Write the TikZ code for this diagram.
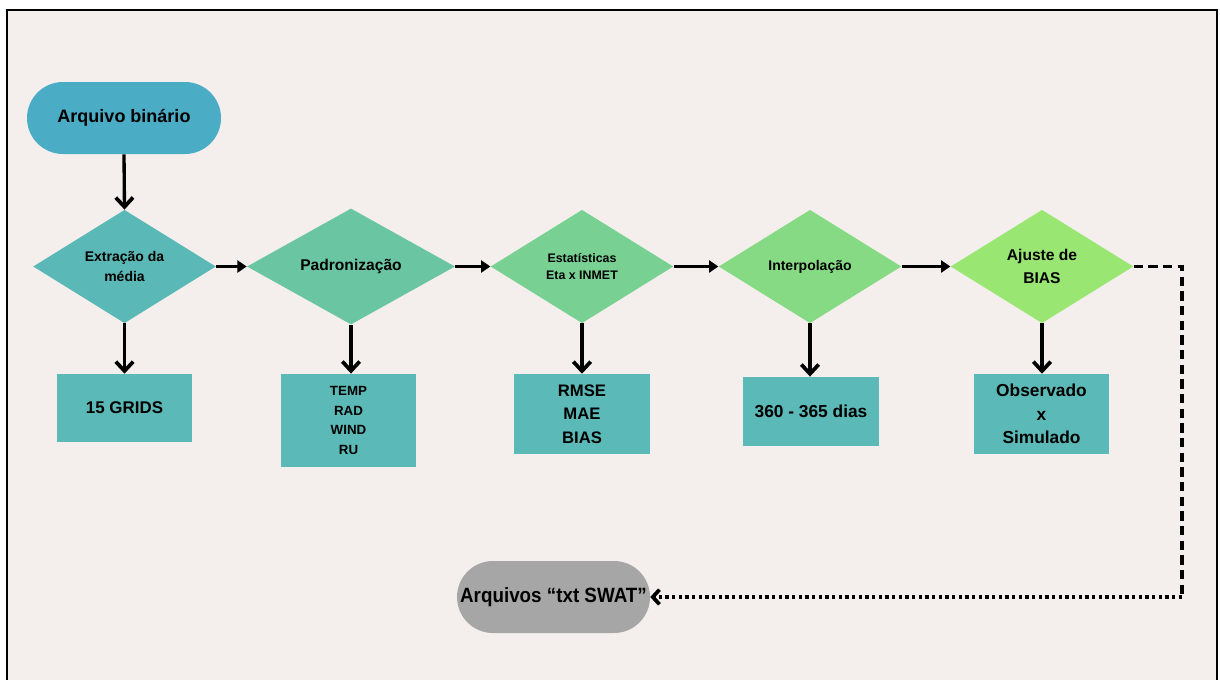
\documentclass[tikz,border=0pt]{standalone}
\usepackage{fontspec}
\setmainfont{Liberation Sans}
\usetikzlibrary{shapes.geometric,arrows.meta}
\definecolor{bgc}{HTML}{F4EFEC}
\definecolor{startc}{HTML}{4BACC6}
\definecolor{dA}{HTML}{5AB9B6}
\definecolor{dB}{HTML}{69C5A2}
\definecolor{dC}{HTML}{78D192}
\definecolor{dD}{HTML}{86DA84}
\definecolor{dE}{HTML}{99E673}
\definecolor{boxc}{HTML}{5BB9B7}
\definecolor{greyc}{HTML}{A6A6A6}
\tikzset{
  stadium/.style={rectangle, rounded corners=27pt, minimum width=145.5pt, minimum height=54pt, inner sep=0pt, font=\bfseries\fontsize{13.5}{16}\selectfont},
  dec/.style={diamond, minimum width=137pt, minimum height=85pt, inner sep=0pt, align=center, font=\bfseries},
  outbox/.style={rectangle, minimum width=101.5pt, inner sep=0pt, align=center, font=\bfseries},
  varrow/.style={line width=2.5pt, -{Straight Barb[length=7pt,width=13pt,line width=2.8pt]}},
  harrow/.style={line width=2.2pt, -{Triangle[length=7pt,width=9pt]}},
}
\begin{document}
\begin{tikzpicture}[x=0.75pt,y=-0.75pt]
\useasboundingbox (0,0) rectangle (1220,679);
\fill[white] (0,0) rectangle (1220,679);
\fill[bgc] (7,10) rectangle (1217,700);
\draw[line width=1.5pt] (7,10) rectangle (1217,700);

\node[stadium, fill=startc] (start) at (124,118) {Arquivo binário};

\node[dec, fill=dA, font=\bfseries\fontsize{10.5}{15}\selectfont] (d1) at (124.5,266.5) {Extração da\\média};
\node[dec, fill=dB, minimum width=156pt, font=\bfseries\fontsize{11.7}{14}\selectfont] (d2) at (351,266.5) {Padronização};
\node[dec, fill=dC, font=\bfseries\fontsize{9.3}{12.8}\selectfont] (d3) at (582,266.5) {Estatísticas\\Eta x INMET};
\node[dec, fill=dD, font=\bfseries\fontsize{10.5}{13}\selectfont] (d4) at (810,266.5) {Interpolação};
\node[dec, fill=dE, font=\bfseries\fontsize{11.7}{17}\selectfont] (d5) at (1042,266.5) {Ajuste de\\BIAS};

\node[outbox, fill=boxc, minimum height=51pt, font=\bfseries\fontsize{12.7}{14}\selectfont] (b1) at (124.5,408) {15 GRIDS};
\node[outbox, fill=boxc, minimum height=70pt, font=\bfseries\fontsize{10}{14.6}\selectfont] (b2) at (348.5,420.5) {TEMP\\RAD\\WIND\\RU};
\node[outbox, fill=boxc, minimum height=60pt, font=\bfseries\fontsize{12.5}{17.5}\selectfont] (b3) at (582,414) {RMSE\\MAE\\BIAS};
\node[outbox, fill=boxc, minimum height=52pt, font=\bfseries\fontsize{13}{14}\selectfont] (b4) at (811,411.5) {360 - 365 dias};
\node[outbox, fill=boxc, minimum height=60pt, font=\bfseries\fontsize{13}{17.5}\selectfont] (b5) at (1041.5,414) {Observado\\x\\Simulado};

\node[stadium, fill=greyc, minimum width=144.75pt, font=\bfseries\fontsize{15.5}{17}\selectfont] (swat) at (553.5,597) {\scalebox{0.91}[1]{Arquivos “txt SWAT”}};

\coordinate (c1) at (1182,266.5);
\coordinate (c2) at (1182,597);

\draw[varrow] (start.south) -- (d1.north);
\draw[harrow] (d1.east) -- (d2.west);
\draw[harrow] (d2.east) -- (d3.west);
\draw[harrow] (d3.east) -- (d4.west);
\draw[harrow] (d4.east) -- (d5.west);
\draw[varrow] (d1.south) -- (b1.north);
\draw[varrow] (d2.south) -- (d2.south |- b2.north);
\draw[varrow] (d3.south) -- (b3.north);
\draw[varrow] (d4.south) -- (d4.south |- b4.north);
\draw[varrow] (d5.south) -- (d5.south |- b5.north);
\draw[line width=2.5pt, dash pattern=on 7pt off 4pt] (d5.east) -- (c1) -- (c2);
\draw[line width=3pt, dash pattern=on 2.6pt off 2.4pt, -{Straight Barb[length=5pt,width=11pt,line width=2.8pt]}] (c2) -- (swat.east);
\end{tikzpicture}
\end{document}
